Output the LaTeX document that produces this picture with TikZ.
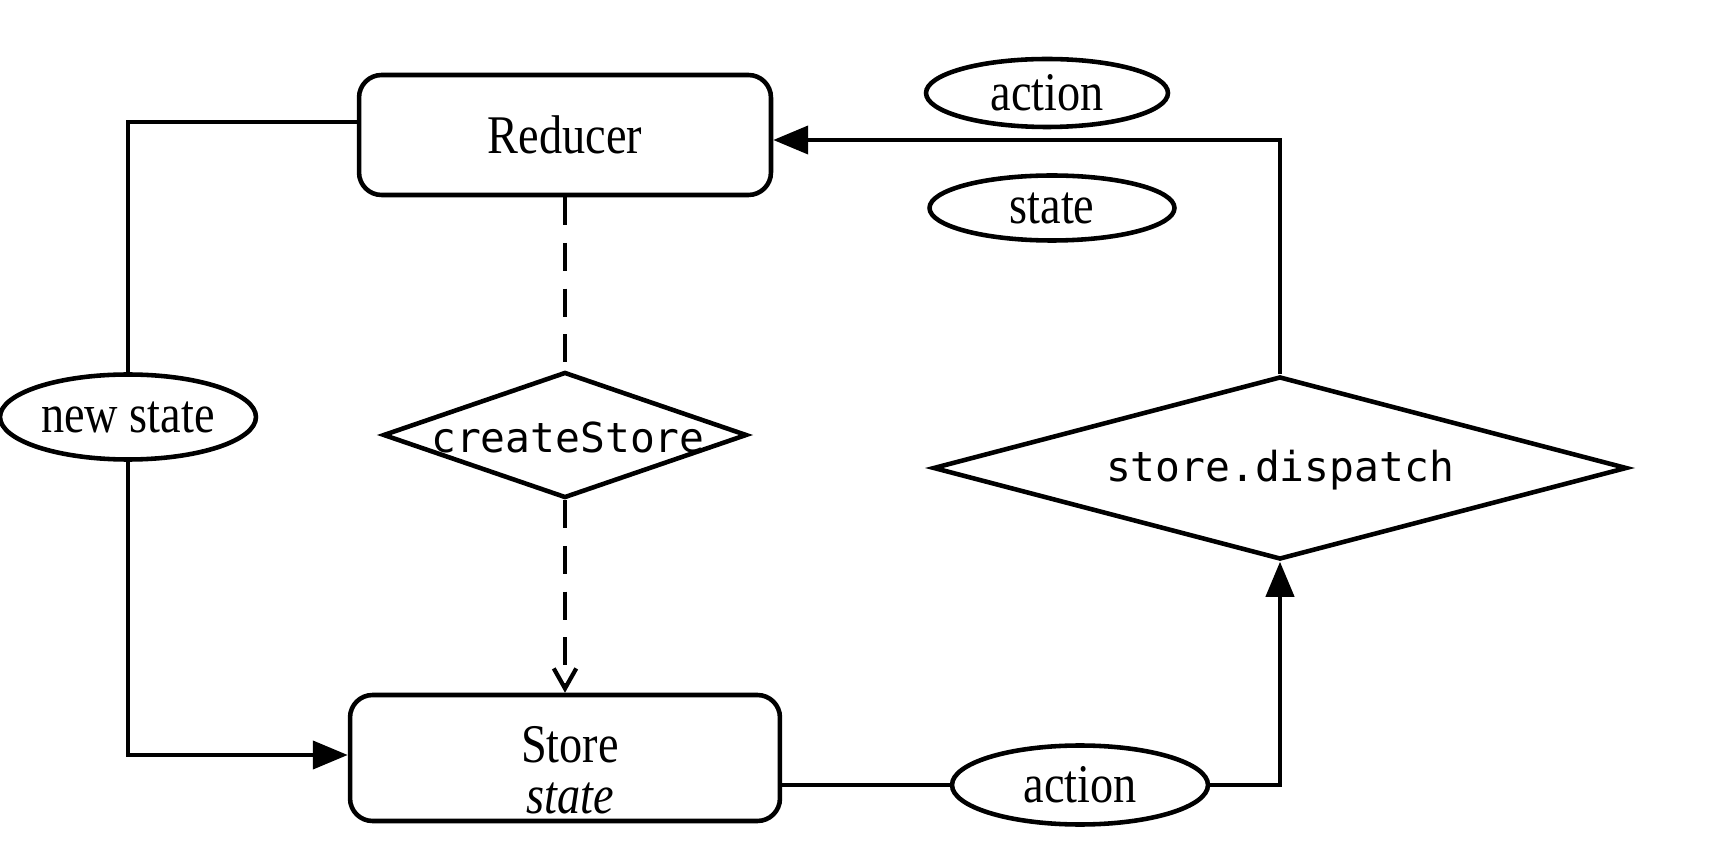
\documentclass[tikz,border=0pt]{standalone}
\usepackage{fontspec}
\setmainfont{Liberation Serif}[FakeStretch=0.85]
\newfontfamily\monof{DejaVu Sans Mono}
\usetikzlibrary{shapes.geometric,arrows.meta}
\begin{document}
\begin{tikzpicture}[x=0.02cm,y=-0.02cm,
  every node/.style={inner sep=0pt},
  serif/.style={font=\fontsize{31}{29}\selectfont},
  rbox/.style={draw,line width=2.6pt,rounded corners=0.45cm,serif,align=center},
  oval/.style={draw,ellipse,line width=2.6pt,serif},
  dia/.style={draw,diamond,line width=2.6pt},
  mono/.style={font=\monof\fontsize{23.5}{28}\selectfont},
  conn/.style={line width=2.4pt},
  solidarrow/.style={-{Triangle[length=0.7cm,width=0.56cm]}},
  dasharrow/.style={dash pattern=on 16pt off 10pt,line width=2.4pt}
]
\useasboundingbox (0,0) rectangle (1728,864);
% nodes
\node[rbox,minimum width=8.24cm,minimum height=2.4cm] (red) at (565,135) {Reducer};
\node[oval,minimum width=4.84cm,minimum height=1.36cm] (act1) at (1047,93) {action};
\node[oval,minimum width=4.9cm,minimum height=1.3cm] (st) at (1052,208) {state};
\node[oval,minimum width=5.12cm,minimum height=1.7cm] (ns) at (128,417) {new state};
\node[dia,minimum width=7.28cm,minimum height=2.52cm] (cs) at (565,435) {};
\node[mono] (cst) at (568,437) {createStore};
\node[rbox,minimum width=8.6cm,minimum height=2.52cm] (store) at (565,758) {};
\node[serif,align=center] (storet) at (570,770) {Store\\\textit{state}};
\node[oval,minimum width=5.12cm,minimum height=1.58cm] (act2) at (1080,785) {action};
\node[dia,minimum width=13.88cm,minimum height=3.66cm] (disp) at (1280,468) {};
\node[mono] (dispt) at (1280,470) {store.dispatch};
% helper coordinates
\coordinate (c0) at (128,122);
\coordinate (c1) at (1280,140);
\coordinate (c2) at (128,755);
\coordinate (c3) at (1280,785);
% connectors
\draw[conn] (red.west |- c0) -- (c0) -- (ns.north);
\draw[conn,solidarrow] (ns.south) -- (c2) -- (store.west |- c2);
\draw[dasharrow] (red.south) -- (cs.north);
\draw[dasharrow,-{Straight Barb[length=0.4cm,width=0.45cm]}] (cs.south) -- (store.north);
\draw[conn] (store.east |- act2.west) -- (act2.west);
\draw[conn,solidarrow] (act2.east) -- (c3) -- (disp.south);
\draw[conn,solidarrow] (disp.north) -- (c1) -- (red.east |- c1);
\end{tikzpicture}
\end{document}
